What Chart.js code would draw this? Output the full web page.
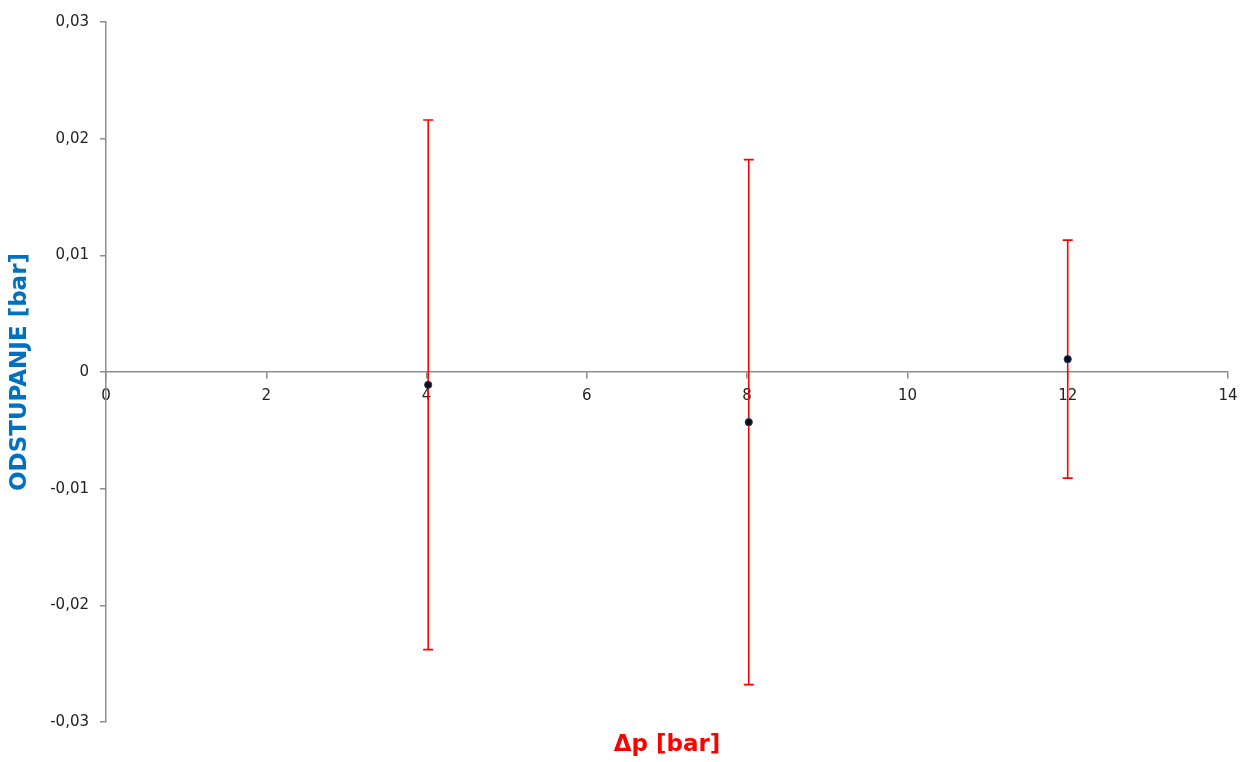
<!DOCTYPE html>
<html>
<head>
<meta charset="utf-8">
<title>Odstupanje</title>
<script src="https://cdn.jsdelivr.net/npm/chart.js@4.4.1/dist/chart.umd.min.js"></script>
<style>
  html, body { margin: 0; padding: 0; background: #fff; }
</style>
</head>
<body>
<canvas id="chart" width="1241" height="762"></canvas>
<script>
const pressure = [4.02, 8.02, 12];
const deviation = [-0.0011, -0.0043, 0.0011];
const uncertainty = [0.0227, 0.0225, 0.0102];
const xTitle = "Δp [bar]";
const yTitle = "ODSTUPANJE [bar]";

(() => {
  const axisColor = "#8c8c8c";
  const tickFont = { family: "DejaVu Sans", size: 15 };
  const titleFont = { family: "DejaVu Sans", size: 23, weight: "bold", lineHeight: 1 };

  // red whiskers with short caps, drawn under the markers
  const errorBars = {
    id: "errorBars",
    beforeDatasetsDraw(chart) {
      const { ctx, scales: { x, y } } = chart;
      ctx.save();
      ctx.strokeStyle = "#ff0000";
      ctx.lineWidth = 1.6;
      pressure.forEach((p, i) => {
        const px = x.getPixelForValue(p);
        const top = y.getPixelForValue(deviation[i] + uncertainty[i]);
        const bottom = y.getPixelForValue(deviation[i] - uncertainty[i]);
        ctx.beginPath();
        ctx.moveTo(px, top);
        ctx.lineTo(px, bottom);
        ctx.moveTo(px - 5, top);
        ctx.lineTo(px + 5, top);
        ctx.moveTo(px - 5, bottom);
        ctx.lineTo(px + 5, bottom);
        ctx.stroke();
      });
      ctx.restore();
    },
  };

  new Chart(document.getElementById("chart"), {
    type: "scatter",
    data: {
      datasets: [
        {
          data: pressure.map((p, i) => ({ x: p, y: deviation[i] })),
          backgroundColor: "#0b0b16",
          borderColor: "#1f3a66",
          borderWidth: 1,
          pointRadius: 3.6,
        },
      ],
    },
    options: {
      responsive: false,
      animation: false,
      events: [],
      layout: { padding: { top: 22, right: 13, left: 0, bottom: 0 } },
      plugins: {
        legend: { display: false },
        tooltip: { enabled: false },
        title: {
          display: true,
          text: xTitle,
          position: "bottom",
          fullSize: false,
          color: "#ff0000",
          font: titleFont,
          padding: { top: 12, bottom: 5 },
        },
        subtitle: {
          display: true,
          text: yTitle,
          position: "left",
          fullSize: false,
          color: "#0070c0",
          font: titleFont,
          padding: { top: 9, bottom: 14 },
        },
      },
      scales: {
        x: {
          type: "linear",
          min: 0,
          max: 14,
          position: { y: 0 },
          afterFit(scale) {
            scale.paddingLeft = 0;
            scale.paddingRight = 0;
          },
          ticks: { stepSize: 2, color: "#222", font: tickFont, padding: 9 },
          grid: { drawOnChartArea: false, drawTicks: true, tickLength: 6, color: axisColor, lineWidth: 1.5 },
          border: { color: axisColor, width: 1.5 },
        },
        y: {
          type: "linear",
          min: -0.03,
          max: 0.03,
          position: "left",
          afterFit(scale) {
            scale.width = 60;
          },
          ticks: {
            stepSize: 0.01,
            color: "#222",
            font: tickFont,
            padding: 11,
            callback(v) {
              const r = Math.round(v * 100) / 100;
              return r === 0 ? "0" : r.toFixed(2).replace(".", ",");
            },
          },
          grid: { drawOnChartArea: false, drawTicks: true, tickLength: 6, color: axisColor, lineWidth: 1.5 },
          border: { color: axisColor, width: 1.5 },
        },
      },
    },
    plugins: [errorBars],
  });
})();
</script>
</body>
</html>
